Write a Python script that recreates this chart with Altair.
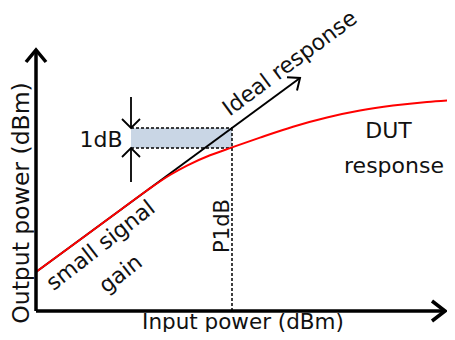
import altair as alt
import pandas as pd

# ---- schematic values (arbitrary dB units; origin at axis corner) ----
# DUT (red) response curve
dut_in = [0, 44, 84, 112, 134, 151, 174, 196, 224, 257, 291, 324, 357, 391, 419]
dut_out = [39, 71.3, 100.7, 121.3, 136.0, 145.4, 155.7, 163.6, 173.4, 184.3, 193.5, 200.4, 205.4, 209.1, 211.1]

# ideal (linear) response arrow
ideal_in = [0, 264]
ideal_out = [39, 233]
ideal_head_in = [251, 264, 261]
ideal_head_out = [233.8, 233, 220.4]

# axes (with open arrow heads)
yaxis_x = [0, 0]
yaxis_y = [0, 261]
yhead_x = [-10, 0, 10]
yhead_y = [249, 261, 249]
xaxis_x = [0, 409]
xaxis_y = [0, 0]
xhead_x = [396, 409, 396]
xhead_y = [10, 0, -10]

# 1 dB compression box
box_x = [95, 196]
box_y = [163, 183]
p1db_in = 196

# 1dB dimension arrows
dim_x = 95
dim_top = [214, 183]
dim_bot = [129, 163]
head_dx = 9

# labels
lbl_text = ["Input power (dBm)", "Output power (dBm)", "1dB", "DUT", "response",
            "P1dB", "Ideal response", "small signal", "gain"]
lbl_x = [207, -7, 65, 352.5, 358, 193, 258, 69, 89]
lbl_y = [-17.5, 108, 163.7, 172.7, 137.7, 85, 242, 60, 31.5]
lbl_size = [21.5, 23.5, 22, 22, 22, 21, 22, 22, 22]
lbl_angle = [0, 270, 0, 0, 0, 270, 323.5, 322, 322]

FONT = "DejaVu Sans"
XS = alt.Scale(domain=[-28, 411], nice=False, zero=False)
YS = alt.Scale(domain=[-21, 303], nice=False, zero=False)


def enc(**extra):
    return dict(x=alt.X("x:Q", scale=XS, axis=None),
                y=alt.Y("y:Q", scale=YS, axis=None), **extra)


def paths(*pairs):
    rows = []
    for i, (xs, ys) in enumerate(pairs):
        for j, (a, b) in enumerate(zip(xs, ys)):
            rows.append({"seg": i, "o": j, "x": a, "y": b})
    return pd.DataFrame(rows)


def line_layer(df, **mk):
    return alt.Chart(df).mark_line(**mk).encode(
        **enc(detail="seg:N", order="o:Q"))


# shaded box
box_df = pd.DataFrame({"x": [box_x[0]], "x2": [box_x[1]], "y": [box_y[0]], "y2": [box_y[1]]})
box = alt.Chart(box_df).mark_rect(color="#c9d6e5").encode(
    x=alt.X("x:Q", scale=XS, axis=None), x2="x2:Q",
    y=alt.Y("y:Q", scale=YS, axis=None), y2="y2:Q")

dotted = line_layer(paths(
    ([box_x[0], box_x[1]], [box_y[1], box_y[1]]),
    ([box_x[0], box_x[1]], [box_y[0], box_y[0]]),
    ([p1db_in, p1db_in], [box_y[1], 0]),
), color="black", strokeWidth=1.5, strokeDash=[3, 2])

dims = line_layer(paths(
    ([dim_x, dim_x], dim_top),
    ([dim_x - head_dx, dim_x, dim_x + head_dx], [dim_top[1] + head_dx, dim_top[1], dim_top[1] + head_dx]),
    ([dim_x, dim_x], dim_bot),
    ([dim_x - head_dx, dim_x, dim_x + head_dx], [dim_bot[1] - head_dx, dim_bot[1], dim_bot[1] - head_dx]),
), color="black", strokeWidth=1.8)

ideal = line_layer(paths((ideal_in, ideal_out), (ideal_head_in, ideal_head_out)),
                   color="black", strokeWidth=2)

dut = alt.Chart(pd.DataFrame({"x": dut_in, "y": dut_out})).mark_line(
    color="#ff0000", strokeWidth=2, interpolate="monotone").encode(**enc())

axes = line_layer(paths((yaxis_x, yaxis_y), (yhead_x, yhead_y),
                        (xaxis_x, xaxis_y), (xhead_x, xhead_y)),
                  color="black", strokeWidth=3.5, strokeJoin="miter")

texts = []
for t, x, y, s, a in zip(lbl_text, lbl_x, lbl_y, lbl_size, lbl_angle):
    texts.append(alt.Chart(pd.DataFrame({"x": [x], "y": [y], "t": [t]})).mark_text(
        font=FONT, fontSize=s, angle=a, align="center", baseline="alphabetic",
        color="#111111").encode(**enc(text="t:N")))

chart = alt.layer(box, dotted, dims, ideal, dut, axes, *texts).properties(
    width=439, height=324, padding=0, autosize="none"
).configure_view(stroke=None)

chart.save("out.html", embed_options={"renderer": "svg", "actions": False})
